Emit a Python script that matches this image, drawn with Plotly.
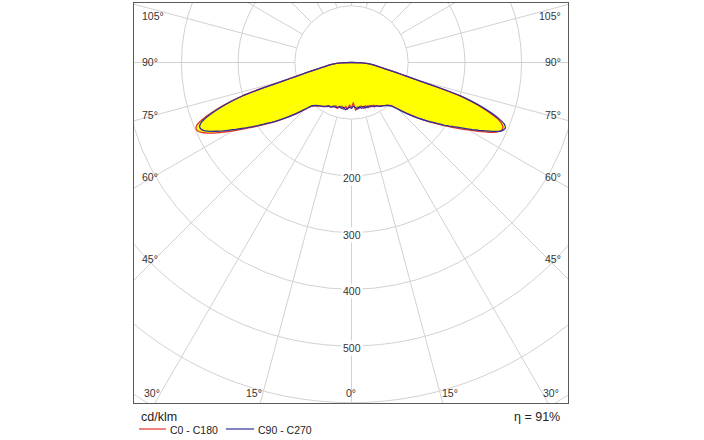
import numpy as np
import plotly.graph_objects as go

# ---------------- data (cd/klm) ----------------
gamma = [0, 2.5, 5, 7.5, 10, 12.5, 15, 17.5, 20, 22.5, 25, 27.5, 30, 32.5, 35, 37.5,
         40, 42.5, 45, 47.5, 50, 52.5, 55, 56, 57, 58, 59, 60, 61, 62, 63, 64, 65, 66,
         67, 68, 69, 70, 71, 72, 73, 74, 75, 76, 77.5, 80, 82.5, 85, 87.5, 90]

c0 = [79, 71, 85, 79, 82, 78, 84, 80, 85, 82, 86, 85, 89, 91, 93, 96,
      98, 103, 116, 133, 152, 171, 191, 200, 209, 218, 228, 238, 249, 260, 271, 281, 288, 291,
      290, 285, 275, 260, 243, 222, 197, 157, 121, 99, 79, 55, 44, 33, 18, 0]
c90 = [81, 77, 80, 83, 79, 83, 80, 84, 82, 85, 84, 88, 88, 92, 94, 96,
       99, 104, 117, 134, 152, 170, 189, 198, 206, 214, 223, 233, 244, 255, 266, 277, 287, 293,
       295, 291, 280, 265, 247, 226, 201, 160, 123, 100, 80, 56, 45, 34, 19, 0]
c180 = [80, 75, 83, 78, 84, 79, 82, 85, 81, 85, 86, 87, 90, 92, 94, 97,
        100, 105, 118, 135, 153, 172, 192, 201, 210, 220, 230, 241, 252, 263, 274, 284, 292, 297,
        298, 294, 283, 267, 249, 227, 202, 161, 123, 100, 80, 56, 45, 34, 19, 0]
c270 = [81, 79, 81, 84, 80, 83, 80, 83, 84, 83, 87, 86, 89, 92, 94, 96,
        99, 104, 117, 134, 152, 171, 190, 199, 208, 217, 226, 236, 246, 257, 267, 277, 285, 290,
        291, 287, 277, 262, 245, 224, 199, 158, 122, 99, 79, 55, 44, 33, 18, 0]

circle_values = [100, 200, 300, 400, 500, 600, 700]
radial_labels = [200, 300, 400, 500]
ray_angles = list(range(0, 360, 15))
angle_labels = ["105°", "90°", "75°", "60°", "45°", "30°", "15°", "0°",
                "15°", "30°", "45°", "60°", "75°", "90°", "105°"]
series_names = ["C0 - C180", "C90 - C270"]
eta_text = "η = 91%"
unit_text = "cd/klm"

# ---------------- layout geometry (pixels) ----------------
W, H = 704, 440
PL, PR, PT, PB = 134, 568, 3, 403          # plot area box
CX, CY = 351.5, 62.5                        # polar centre
S = 0.567                                   # px per cd/klm

x_range = [(PL - CX) / S, (PR - CX) / S]
y_range = [-(PB - CY) / S, (CY - PT) / S]


def paper(px, py):
    return (px - PL) / (PR - PL), (PB - py) / (PB - PT)


# label positions (px) and anchors for angle labels, same order as angle_labels
label_pos = [(140, 16, "left"), (140, 62, "left"), (140, 115, "left"), (140, 177, "left"),
             (140, 259, "left"), (142, 393, "left"), (253.5, 393, "center"), (351, 393, "center"),
             (450, 393, "center"), (561, 393, "right"), (563, 259, "right"), (563, 177, "right"),
             (563, 115, "right"), (563, 62, "right"), (563, 16, "right")]

RED = "#e3342c"
BLUE = "#2f2f9c"
GRID = "#d2d2d2"
FONT = "Liberation Sans"


def curve(left, right):
    g = np.radians(np.array(gamma, dtype=float))
    l = np.array(left, dtype=float)
    r = np.array(right, dtype=float)
    xl = -l * np.sin(g)
    yl = -l * np.cos(g)
    xr = r * np.sin(g)
    yr = -r * np.cos(g)
    x = np.concatenate([xl[::-1], xr[1:]])
    y = np.concatenate([yl[::-1], yr[1:]])
    return x, y


fig = go.Figure()

xa, ya = curve(c180, c0)
xb, yb = curve(c270, c90)

for xs, ys in [(xa, ya), (xb, yb)]:
    fig.add_trace(go.Scatter(x=xs, y=ys, mode="lines", fill="toself",
                             fillcolor="#ffff00",
                             line=dict(width=0, color="#ffff00", shape="spline", smoothing=0.3),
                             hoverinfo="skip", showlegend=False))

fig.add_trace(go.Scatter(x=xa, y=ya, mode="lines", name=series_names[0],
                         line=dict(color=RED, width=1.3, shape="spline", smoothing=0.3),
                         showlegend=False))
fig.add_trace(go.Scatter(x=xb, y=yb, mode="lines", name=series_names[1],
                         line=dict(color=BLUE, width=1.3, shape="spline", smoothing=0.3),
                         showlegend=False))

shapes = []
for rv in circle_values:
    shapes.append(dict(type="circle", xref="x", yref="y", x0=-rv, x1=rv, y0=-rv, y1=rv,
                       line=dict(color=GRID, width=1), layer="below"))
r_in, r_out = circle_values[0], 1200
for a in ray_angles:
    t = np.radians(a)
    shapes.append(dict(type="line", xref="x", yref="y",
                       x0=r_in * np.sin(t), y0=-r_in * np.cos(t),
                       x1=r_out * np.sin(t), y1=-r_out * np.cos(t),
                       line=dict(color=GRID, width=1), layer="below"))

# legend samples
for (x0p, x1p), col in [((139, 166), RED), ((226, 254), BLUE)]:
    a0 = paper(x0p, 429)
    a1 = paper(x1p, 429)
    shapes.append(dict(type="line", xref="paper", yref="paper", x0=a0[0], y0=a0[1],
                       x1=a1[0], y1=a1[1], line=dict(color=col, width=1.2)))

annotations = []
for rv in radial_labels:
    annotations.append(dict(x=0, y=-rv, xref="x", yref="y", text=str(rv), showarrow=False,
                            yshift=-2, bgcolor="white", borderpad=1,
                            font=dict(family=FONT, size=10.5, color="#333333")))
for txt, (px, py, anc) in zip(angle_labels, label_pos):
    xp, yp = paper(px, py)
    annotations.append(dict(x=xp, y=yp, xref="paper", yref="paper", text=txt,
                            showarrow=False, xanchor=anc, yanchor="middle",
                            font=dict(family=FONT, size=10.5, color="#333333")))

xp, yp = paper(139, 417)
annotations.append(dict(x=xp, y=yp, xref="paper", yref="paper", text=unit_text,
                        showarrow=False, xanchor="left", yanchor="middle",
                        font=dict(family=FONT, size=12.5, color="#222222")))
xp, yp = paper(562, 417)
annotations.append(dict(x=xp, y=yp, xref="paper", yref="paper", text=eta_text,
                        showarrow=False, xanchor="right", yanchor="middle",
                        font=dict(family=FONT, size=12.5, color="#222222")))
for txt, px in zip(series_names, [168, 256]):
    xp, yp = paper(px, 430)
    annotations.append(dict(x=xp, y=yp, xref="paper", yref="paper", text=txt,
                            showarrow=False, xanchor="left", yanchor="middle",
                            font=dict(family=FONT, size=10.5, color="#222222")))

axis_common = dict(showgrid=False, zeroline=False, showticklabels=False, ticks="",
                   showline=True, mirror=True, linecolor="#5a5a5a", linewidth=1,
                   fixedrange=True)

fig.update_layout(
    width=W, height=H,
    margin=dict(l=PL, r=W - PR, t=PT, b=H - PB, pad=0),
    paper_bgcolor="white", plot_bgcolor="white",
    xaxis=dict(range=x_range, **axis_common),
    yaxis=dict(range=y_range, **axis_common),
    shapes=shapes, annotations=annotations, showlegend=False,
)

fig.write_html("out.html")
